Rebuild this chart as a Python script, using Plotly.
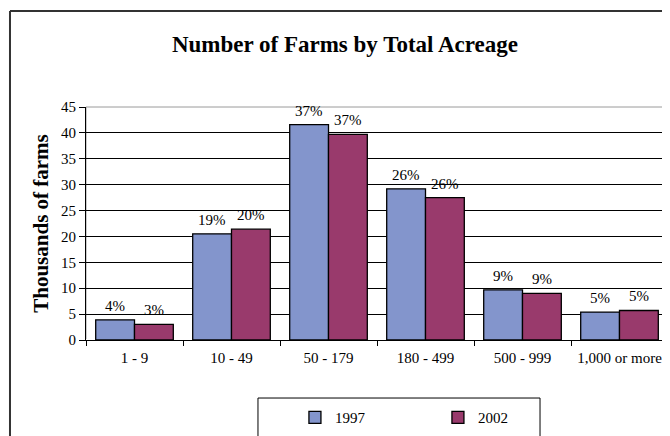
import plotly.graph_objects as go

categories = ["1 - 9", "10 - 49", "50 - 179", "180 - 499", "500 - 999", "1,000 or more"]
farms_1997 = [3.9, 20.5, 41.6, 29.2, 9.7, 5.4]
farms_2002 = [3.0, 21.4, 39.7, 27.5, 9.0, 5.7]
pct_1997 = ["4%", "19%", "37%", "26%", "9%", "5%"]
pct_2002 = ["3%", "20%", "37%", "26%", "9%", "5%"]
y_ticks = [0, 5, 10, 15, 20, 25, 30, 35, 40, 45]

SERIF = "Liberation Serif, Times New Roman, serif"

fig = go.Figure()
fig.add_trace(go.Bar(
    name="1997", x=categories, y=farms_1997,
    marker=dict(color="#8395CC", line=dict(color="black", width=1.3)),
))
fig.add_trace(go.Bar(
    name="2002", x=categories, y=farms_2002,
    marker=dict(color="#993A6C", line=dict(color="black", width=1.3)),
))

# percentage labels above each bar (grouped bars sit at category index -/+ 0.2)
annotations = []
for i, (v, t) in enumerate(zip(farms_1997, pct_1997)):
    annotations.append(dict(x=i - 0.2, y=v, xref="x", yref="y", text=t, showarrow=False,
                            yanchor="bottom", yshift=4,
                            font=dict(family=SERIF, size=15, color="black")))
for i, (v, t) in enumerate(zip(farms_2002, pct_2002)):
    annotations.append(dict(x=i + 0.2, y=v, xref="x", yref="y", text=t, showarrow=False,
                            yanchor="bottom", yshift=4,
                            font=dict(family=SERIF, size=15, color="black")))

# the page body adds an 8px offset, so the figure is laid out 8px smaller
fig.update_layout(
    width=662, height=428,
    margin=dict(l=78, r=2, t=99, b=96),
    paper_bgcolor="white", plot_bgcolor="white",
    barmode="group", bargap=0.2, bargroupgap=0,
    font=dict(family=SERIF, color="black", size=14),
    title=dict(text="<b>Number of Farms by Total Acreage</b>",
               x=0.509, xanchor="center", y=0.915, yanchor="middle",
               font=dict(family=SERIF, size=23, color="black")),
    showlegend=True,
    legend=dict(orientation="h", x=0.359, xanchor="left", y=-0.262, yanchor="top",
                borderwidth=0, bgcolor="rgba(0,0,0,0)",
                font=dict(family=SERIF, size=15), itemwidth=30,
                entrywidth=98, traceorder="normal"),
    xaxis=dict(showline=True, linecolor="black", linewidth=1, automargin=False,
               ticks="outside", tickson="boundaries", ticklen=5, tickcolor="black",
               ticklabelstandoff=4,
               tickfont=dict(family=SERIF, size=15), showgrid=False),
    yaxis=dict(range=[0, 45], tickvals=y_ticks, showline=True, linecolor="black", linewidth=1,
               automargin=False,
               ticks="outside", ticklen=6, tickcolor="black",
               showgrid=True, gridcolor="black", gridwidth=1,
               tickfont=dict(family=SERIF, size=15),
               title=dict(text="<b>Thousands of farms</b>", standoff=6,
                          font=dict(family=SERIF, size=21))),
    annotations=annotations,
    shapes=[
        dict(type="rect", xref="paper", yref="paper", x0=0, x1=1, y0=0, y1=1,
             line=dict(color="#9a9a9a", width=1), layer="below"),
        dict(type="line", xref="paper", yref="paper", x0=-0.1306, x1=-0.1306, y0=-0.5, y1=1.412,
             line=dict(color="#333333", width=2)),
        dict(type="line", xref="paper", yref="paper", x0=-0.1306, x1=1.1, y0=1.412, y1=1.412,
             line=dict(color="#333333", width=2)),
        dict(type="rect", xref="paper", yref="paper", x0=0.2955, x1=0.7801, y0=-0.249, y1=-0.5,
             line=dict(color="black", width=1), fillcolor="rgba(0,0,0,0)"),
    ],
)

fig.write_html("out.html")
